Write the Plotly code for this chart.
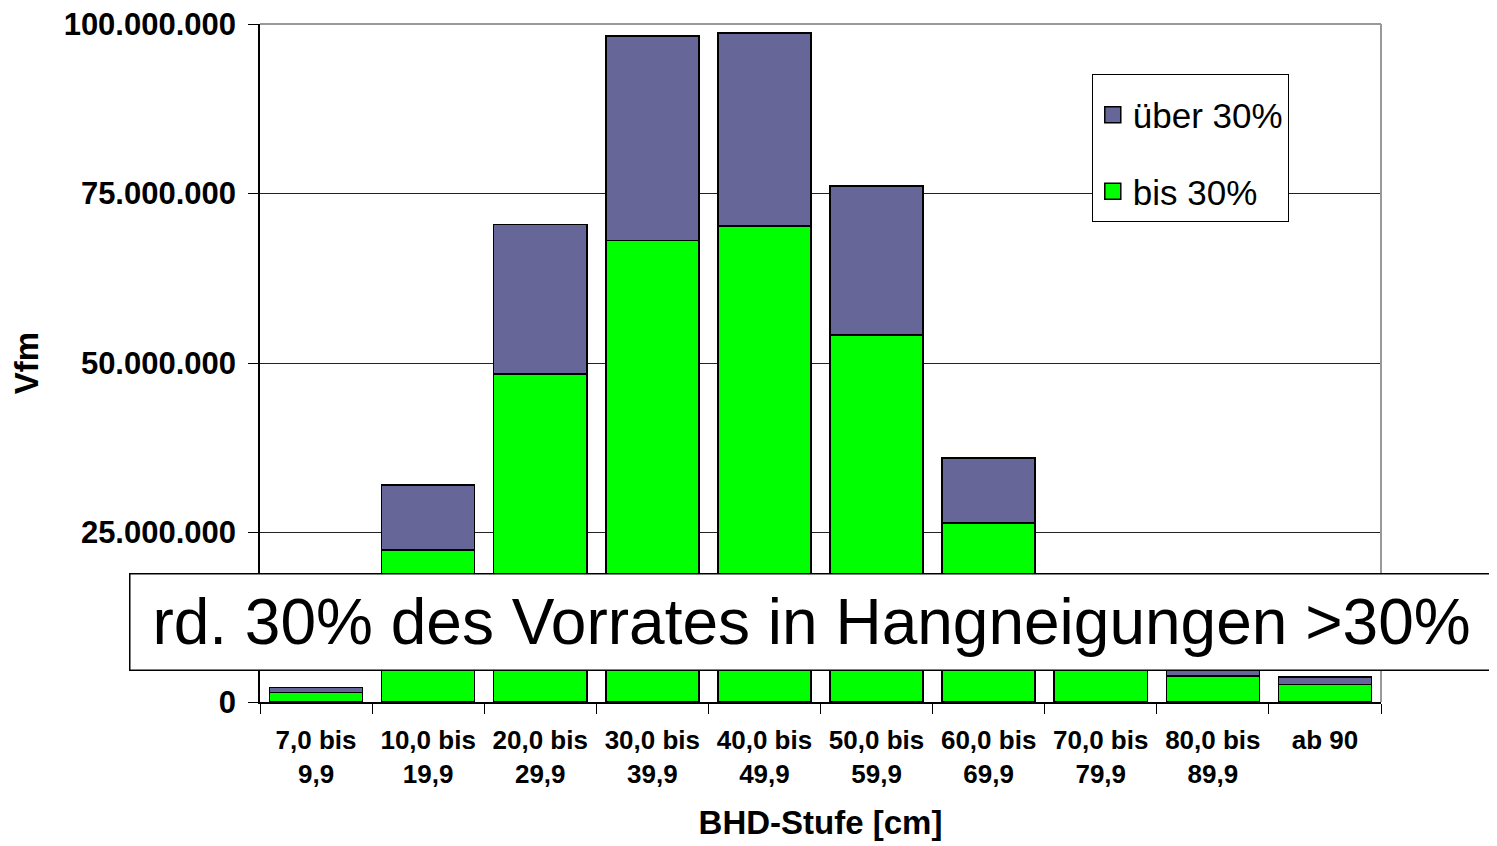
import plotly.graph_objects as go

categories = ["7,0 bis<br>9,9", "10,0 bis<br>19,9", "20,0 bis<br>29,9", "30,0 bis<br>39,9",
              "40,0 bis<br>49,9", "50,0 bis<br>59,9", "60,0 bis<br>69,9", "70,0 bis<br>79,9",
              "80,0 bis<br>89,9", "ab 90"]
bis_30 = [1.37e6, 22.4e6, 48.4e6, 68.1e6, 70.2e6, 54.1e6, 26.4e6, 12.0e6, 3.8e6, 2.6e6]
ueber_30 = [0.8e6, 9.6e6, 22.0e6, 30.1e6, 28.5e6, 22.0e6, 9.6e6, 4.5e6, 2.2e6, 1.1e6]
y_ticks = [0, 25e6, 50e6, 75e6, 100e6]
y_tick_labels = ["0", "25.000.000", "50.000.000", "75.000.000", "100.000.000"]

GREEN = "#00FF00"
PURPLE = "#666699"
FONT = "Liberation Sans, Arial, sans-serif"

fig = go.Figure()
fig.add_trace(go.Bar(x=categories, y=bis_30, name="bis 30%", showlegend=False,
                     marker=dict(color=GREEN, line=dict(color="black", width=1.5))))
fig.add_trace(go.Bar(x=categories, y=ueber_30, name="über 30%", showlegend=False,
                     marker=dict(color=PURPLE, line=dict(color="black", width=1.5))))
# legend proxies
fig.add_trace(go.Scatter(x=[None], y=[None], mode="markers", name="über 30%", legendgroup="a",
                         marker=dict(symbol="square", size=20, color=PURPLE, line=dict(color="black", width=1.5))))
fig.add_trace(go.Scatter(x=[None], y=[None], mode="markers", name="bis 30%", legendgroup="b",
                         marker=dict(symbol="square", size=20, color=GREEN, line=dict(color="black", width=1.5))))

fig.update_layout(
    width=1489, height=838,
    barmode="stack", bargap=0.17,
    plot_bgcolor="white", paper_bgcolor="white",
    margin=dict(l=252, r=116, t=16, b=144, autoexpand=False),
    font=dict(family=FONT, color="black"),
    legend=dict(x=0.742, y=0.926, xanchor="left", yanchor="top",
                bgcolor="white", bordercolor="black", borderwidth=1,
                font=dict(size=35, family=FONT), traceorder="grouped",
                tracegroupgap=28, itemsizing="trace",
                title=dict(text=" ", font=dict(size=8))),
    xaxis=dict(
        type="category", tickson="boundaries", ticks="outside", ticklen=10, tickcolor="black",
        showline=True, linecolor="black", linewidth=1.5, mirror=False,
        showgrid=False, tickangle=0,
        tickfont=dict(size=26, family=FONT, weight="bold"),
        ticklabelstandoff=14,
        title=dict(text="<b>BHD-Stufe [cm]</b>", font=dict(size=33, family=FONT), standoff=23),
        automargin=False,
    ),
    yaxis=dict(
        range=[0, 100e6], tickvals=y_ticks, ticktext=y_tick_labels,
        ticks="outside", ticklen=10, tickcolor="black",
        showline=True, linecolor="black", linewidth=1.5,
        showgrid=True, gridcolor="#222222", gridwidth=1,
        tickfont=dict(size=31, family=FONT, weight="bold"),
        ticklabelstandoff=6, ticklabeloverflow="allow",
        title=dict(text="<b>Vfm</b>", font=dict(size=33, family=FONT), standoff=27),
        automargin=False, zeroline=False,
    ),
    shapes=[
        dict(type="line", xref="paper", yref="paper", x0=0, x1=1, y0=1, y1=1,
             line=dict(color="#999999", width=2)),
        dict(type="line", xref="paper", yref="paper", x0=1, x1=1, y0=0, y1=1,
             line=dict(color="#999999", width=2)),
    ],
    annotations=[
        dict(text="rd. 30% des Vorrates in Hangneigungen >30%", xref="paper", yref="paper",
             x=0.4924, y=0.1187, xanchor="center", yanchor="middle", showarrow=False,
             font=dict(size=64, family=FONT, color="black"),
             bgcolor="white", bordercolor="black", borderwidth=1.5, borderpad=0,
             width=1362, height=95),
    ],
)

fig.write_html("out.html")
